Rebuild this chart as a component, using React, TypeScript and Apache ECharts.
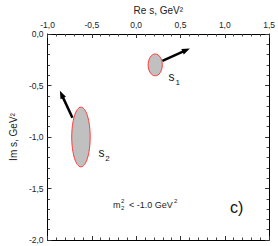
import React, { useEffect, useRef } from "react";
import * as echarts from "echarts";

const xTicks = [-1.0, -0.5, 0.0, 0.5, 1.0, 1.5];
const yTicks = [0.0, -0.5, -1.0, -1.5, -2.0];
const ellipseCenters = [[0.215, -0.30], [-0.623, -1.0]];
const ellipseRadii = [[0.08, 0.106], [0.104, 0.29]];
const arrowStarts = [[0.296, -0.26], [-0.719, -0.814]];
const arrowEnds = [[0.606, -0.141], [-0.861, -0.551]];
const labelPositions = [[0.40, -0.413], [-0.391, -1.154]];
const labelSubs = ["1", "2"];

const FONT = "'Liberation Sans', Arial, sans-serif";
const fmt = (v: number) => v.toFixed(1).replace(".", ",");

export default function App() {
  const ref = useRef<HTMLDivElement>(null);
  useEffect(() => {
    if (!ref.current) return;
    const chart = echarts.init(ref.current, null, { renderer: "svg" });
    const axisCommon = {
      axisLine: { show: true, onZero: false, lineStyle: { color: "#000", width: 1 } },
      axisTick: { show: true, inside: true, length: 4, lineStyle: { color: "#333" } },
      minorTick: { show: true, splitNumber: 5, length: 2.5, lineStyle: { color: "#444" } },
      splitLine: { show: false },
      minorSplitLine: { show: false },
    };
    const xAx = {
      type: "value",
      min: xTicks[0],
      max: xTicks[xTicks.length - 1],
      interval: 0.5,
      ...axisCommon,
    };
    const yAx = {
      type: "value",
      min: yTicks[yTicks.length - 1],
      max: yTicks[0],
      interval: 0.5,
      ...axisCommon,
    };
    const ellipseData = ellipseCenters.map((c, i) => [c[0], c[1], ellipseRadii[i][0], ellipseRadii[i][1]]);
    const arrowData = arrowStarts.map((s, i) => [s[0], s[1], arrowEnds[i][0], arrowEnds[i][1]]);
    const labelData = labelPositions.map((p, i) => [p[0], p[1], i]);

    chart.setOption({
      animation: false,
      grid: { left: 37, top: 32, width: 234, height: 208 },
      xAxis: [
        {
          ...xAx,
          position: "top",
          axisLabel: { formatter: fmt, fontSize: 8.5, color: "#222", fontFamily: FONT, margin: 5 },
          name: "Re s, GeV²",
          nameLocation: "middle",
          nameGap: 19,
          nameTextStyle: { fontSize: 10, color: "#222", fontFamily: FONT },
        },
        { ...xAx, position: "bottom", axisLabel: { show: false } },
      ],
      yAxis: [
        {
          ...yAx,
          position: "left",
          axisLabel: { formatter: fmt, fontSize: 8.5, color: "#222", fontFamily: FONT, margin: 4 },
          name: "Im s, GeV²",
          nameLocation: "middle",
          nameGap: 22,
          nameTextStyle: { fontSize: 10, color: "#222", fontFamily: FONT },
        },
        { ...yAx, position: "right", axisLabel: { show: false } },
      ],
      series: [
        {
          type: "custom",
          xAxisIndex: 0,
          yAxisIndex: 0,
          data: ellipseData,
          renderItem: (_p: any, api: any) => {
            const c = api.coord([api.value(0), api.value(1)]);
            const e = api.coord([api.value(0) + api.value(2), api.value(1) + api.value(3)]);
            return {
              type: "ellipse",
              shape: { cx: c[0], cy: c[1], rx: Math.abs(e[0] - c[0]), ry: Math.abs(e[1] - c[1]) },
              style: { fill: "#c0c0c0", stroke: "#ff3b3b", lineWidth: 1 },
            };
          },
        },
        {
          type: "custom",
          xAxisIndex: 0,
          yAxisIndex: 0,
          data: arrowData,
          renderItem: (_p: any, api: any) => {
            const a = api.coord([api.value(0), api.value(1)]);
            const b = api.coord([api.value(2), api.value(3)]);
            const dx = b[0] - a[0];
            const dy = b[1] - a[1];
            const L = Math.sqrt(dx * dx + dy * dy);
            const ux = dx / L;
            const uy = dy / L;
            const hl = 8;
            const hw = 3;
            const bx = b[0] - ux * hl;
            const by = b[1] - uy * hl;
            return {
              type: "group",
              children: [
                {
                  type: "line",
                  shape: { x1: a[0], y1: a[1], x2: bx + ux * 1, y2: by + uy * 1 },
                  style: { stroke: "#000", lineWidth: 2.5 },
                },
                {
                  type: "polygon",
                  shape: {
                    points: [
                      [b[0], b[1]],
                      [bx - uy * hw, by + ux * hw],
                      [bx + uy * hw, by - ux * hw],
                    ],
                  },
                  style: { fill: "#000" },
                },
              ],
            };
          },
        },
        {
          type: "custom",
          xAxisIndex: 0,
          yAxisIndex: 0,
          data: labelData,
          renderItem: (_p: any, api: any) => {
            const c = api.coord([api.value(0), api.value(1)]);
            const idx = api.value(2);
            return {
              type: "group",
              children: [
                {
                  type: "text",
                  x: c[0],
                  y: c[1],
                  style: {
                    text: "s",
                    fontSize: 12,
                    fontFamily: FONT,
                    fill: "#111",
                    align: "center",
                    verticalAlign: "middle",
                  },
                },
                {
                  type: "text",
                  x: c[0] + 6,
                  y: c[1] + 6,
                  style: {
                    text: labelSubs[idx],
                    fontSize: 8,
                    fontFamily: FONT,
                    fill: "#111",
                    align: "center",
                    verticalAlign: "middle",
                  },
                },
              ],
            };
          },
        },
      ],
      graphic: [
        {
          type: "group",
          x: 113,
          y: 205,
          children: [
            { type: "text", x: 0, y: 0, style: { text: "m", fontSize: 9, fontFamily: FONT, fill: "#222", verticalAlign: "middle" } },
            { type: "text", x: 8, y: 3, style: { text: "2", fontSize: 6, fontFamily: FONT, fill: "#222", verticalAlign: "middle" } },
            { type: "text", x: 8, y: -4, style: { text: "2", fontSize: 6, fontFamily: FONT, fill: "#222", verticalAlign: "middle" } },
            { type: "text", x: 16, y: 0, style: { text: "< -1.0 GeV", fontSize: 9, fontFamily: FONT, fill: "#222", verticalAlign: "middle" } },
            { type: "text", x: 61, y: -4, style: { text: "2", fontSize: 6, fontFamily: FONT, fill: "#222", verticalAlign: "middle" } },
          ],
        },
        {
          type: "text",
          x: 230,
          y: 207,
          style: { text: "c)", fontSize: 16, fontFamily: FONT, fill: "#111", verticalAlign: "middle" },
        },
      ],
    });
    return () => chart.dispose();
  }, []);
  return <div ref={ref} style={{ width: 278, height: 246, position: "absolute", left: 0, top: 0 }} />;
}
